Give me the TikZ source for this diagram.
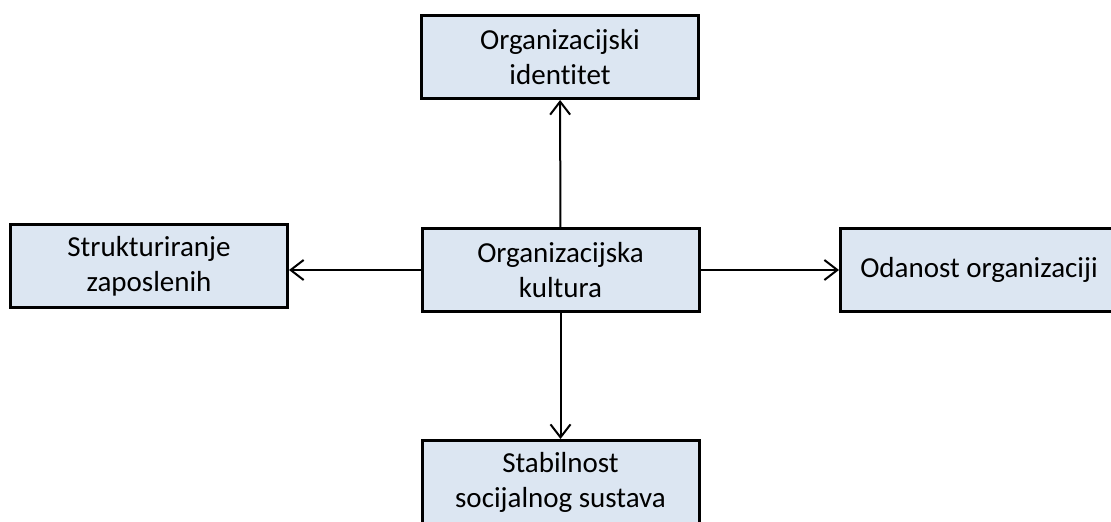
\documentclass[tikz,border=0pt]{standalone}
\usepackage{fontspec}
\setmainfont{Carlito}[Ligatures=NoCommon]
\usetikzlibrary{arrows.meta}
\definecolor{boxfill}{HTML}{DCE6F2}

\begin{document}
\begin{tikzpicture}[x=1pt,y=-1pt,
    box/.style={draw,fill=boxfill,line width=3pt,minimum width=277pt,minimum height=83pt,align=center,
                font=\fontsize{29}{35}\selectfont,inner sep=0pt}]
                    \clip (0,0) rectangle (1111,522);
                    \node[box] at (560,57) (identitet) {Organizacijski\\identitet};
                    \node[box] at (560.5,270) (kultura) {Organizacijska\\kultura};
                    \node[box] at (149,266) (struktura) {Strukturiranje\\zaposlenih};
                    \node[box] at (979,269.5) (odanost) {Odanost organizaciji};
                    \node[box] at (560.5,482) (stabilnost) {Stabilnost\\socijalnog sustava};

                    \draw[->,>={Straight Barb[length=13pt,width=20pt]},line width=2pt] (kultura) -- (identitet);
                    \draw[->,>={Straight Barb[length=13pt,width=20pt]},line width=2pt] (kultura) -- (stabilnost);
                    \draw[->,>={Straight Barb[length=13pt,width=20pt]},line width=2pt] (kultura.west) -- (kultura.west -| struktura.east);
                    \draw[->,>={Straight Barb[length=13pt,width=20pt]},line width=2pt] (kultura.east) -- (kultura.east -| odanost.west);
                \end{tikzpicture}
\end{document}
